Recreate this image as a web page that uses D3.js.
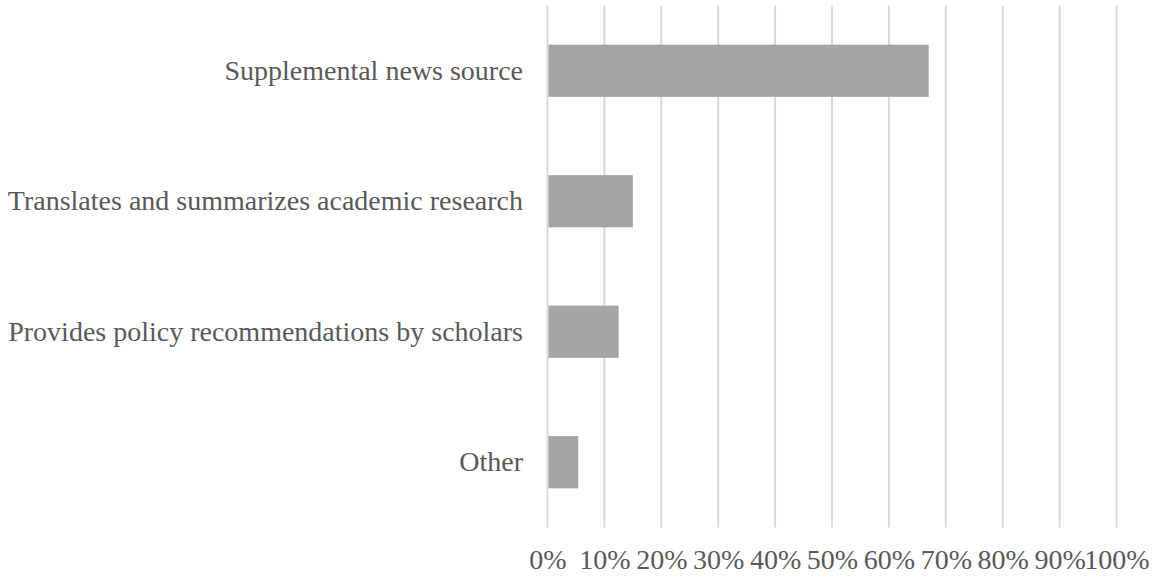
<!DOCTYPE html>
<html>
<head>
<meta charset="utf-8">
<script src="https://cdn.jsdelivr.net/npm/d3@7"></script>
<style>
  html, body { margin: 0; padding: 0; background: #fff; }
  svg { display: block; }
</style>
</head>
<body>
<svg id="chart" width="1154" height="579"></svg>
<script>
const categories = [
  "Supplemental news source",
  "Translates and summarizes academic research",
  "Provides policy recommendations by scholars",
  "Other"
];
const values = [0.67, 0.15, 0.125, 0.054];
const tickValues = [0, 0.1, 0.2, 0.3, 0.4, 0.5, 0.6, 0.7, 0.8, 0.9, 1.0];

const FONT = "'Liberation Serif', 'Times New Roman', serif";
const FONT_SIZE = "28px";
const TEXT_COLOR = "#595959";

const svg = d3.select("#chart");
const x = d3.scaleLinear().domain([0, 1]).range([547.5, 1116.5]);
const y = d3.scaleBand().domain(categories).range([5.5, 527.5])
  .paddingInner(0.6).paddingOuter(0.3);

// gridlines
svg.append("g")
  .selectAll("line")
  .data(tickValues)
  .join("line")
  .attr("x1", d => x(d)).attr("x2", d => x(d))
  .attr("y1", y.range()[0]).attr("y2", y.range()[1])
  .attr("stroke", "#d9d9d9")
  .attr("stroke-width", 2);

// bars
svg.append("g")
  .selectAll("rect")
  .data(categories.map((c, i) => ({ c, v: values[i] })))
  .join("rect")
  .attr("x", x(0) + 1)
  .attr("y", d => y(d.c))
  .attr("width", d => x(d.v) - x(0) - 1)
  .attr("height", y.bandwidth())
  .attr("fill", "#a5a5a5");

// x axis labels
const xAxis = d3.axisBottom(x)
  .tickValues(tickValues)
  .tickSize(0)
  .tickPadding(0)
  .tickFormat(d3.format(".0%"));
const gx = svg.append("g")
  .attr("transform", "translate(0,548)")
  .call(xAxis)
  .attr("font-family", FONT)
  .attr("font-size", FONT_SIZE);
gx.select(".domain").remove();
gx.selectAll("text")
  .attr("dy", null)
  .attr("y", 21)
  .attr("fill", TEXT_COLOR);

// y axis labels
const yAxis = d3.axisLeft(y).tickSize(0).tickPadding(0);
const gy = svg.append("g")
  .attr("transform", "translate(523,0)")
  .call(yAxis)
  .attr("font-family", FONT)
  .attr("font-size", FONT_SIZE);
gy.select(".domain").remove();
gy.selectAll("text")
  .attr("dy", "0.32em")
  .attr("fill", TEXT_COLOR);
</script>
</body>
</html>
